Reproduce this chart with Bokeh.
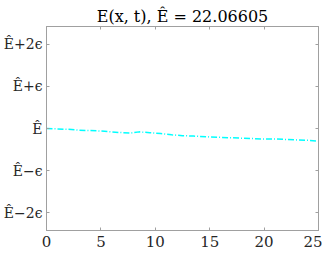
from bokeh.plotting import figure
from bokeh.models import LinearAxis, FixedTicker, Range1d
from bokeh.embed import file_html
from bokeh.resources import INLINE

# data: time and deviation of E from E_hat in units of epsilon
t = [0, 1, 2, 3, 4, 5, 6, 7, 7.7, 8.5, 9.5, 10.5, 11.5, 12.5, 13.5, 15, 16, 17, 18, 19, 20, 21, 22, 23, 24, 25]
dev = [0.0, -0.01, -0.02, -0.04, -0.05, -0.06, -0.08, -0.10, -0.11, -0.08, -0.10, -0.12, -0.15, -0.17, -0.18, -0.20, -0.21, -0.22, -0.23, -0.24, -0.25, -0.25, -0.26, -0.27, -0.28, -0.30]
E_hat = "22.06605"
x_ticks = [0, 5, 10, 15, 20, 25]
y_ticks = [-2, -1, 0, 1, 2]
y_labels = ["Ê\u22122ϵ", "Ê\u2212ϵ", "Ê", "Ê+ϵ", "Ê+2ϵ"]

font = "DejaVu Serif"
axis_col = "#a0a0a0"

p = figure(frame_width=272, frame_height=204, output_backend="svg", toolbar_location=None,
           x_range=Range1d(0, 25), y_range=Range1d(-2.42, 2.42),
           min_border_left=46, min_border_right=4, min_border_top=26, min_border_bottom=16,
           title=f"E(x, t), Ê = {E_hat}")
p.title.text_font = font
p.title.text_font_size = "16px"
p.title.text_font_style = "normal"
p.title.text_color = "#000000"
p.title.align = "center"
p.title.standoff = 2
p.grid.visible = False
p.outline_line_color = axis_col

p.line(t, dev, line_color="#00FFFF", line_width=1.5, line_dash="6 2 1 2")

def style(ax, labels=True, size="14px"):
    ax.axis_line_color = axis_col
    ax.major_tick_line_color = axis_col
    ax.major_tick_in = 3
    ax.major_tick_out = 0
    ax.minor_tick_line_color = None
    ax.major_label_text_font = font
    ax.major_label_text_font_size = size
    ax.major_label_text_color = "#262626"
    ax.major_label_standoff = 3 if labels else 0

xa = p.xaxis[0]
xa.ticker = FixedTicker(ticks=x_ticks)
style(xa, size="15px")
xa.major_label_standoff = 5
ya = p.yaxis[0]
ya.ticker = FixedTicker(ticks=y_ticks)
ya.major_label_overrides = {v: l for v, l in zip(y_ticks, y_labels)}
style(ya, size="14px")
ya.major_label_standoff = 4

ra = LinearAxis(ticker=FixedTicker(ticks=y_ticks))
style(ra, labels=False)
ra.major_label_overrides = {v: "" for v in y_ticks}
p.add_layout(ra, "right")
ta = LinearAxis(ticker=FixedTicker(ticks=x_ticks))
style(ta, labels=False)
ta.major_label_overrides = {v: "" for v in x_ticks}
p.add_layout(ta, "above")

open("out.html", "w").write(file_html(p, INLINE))
